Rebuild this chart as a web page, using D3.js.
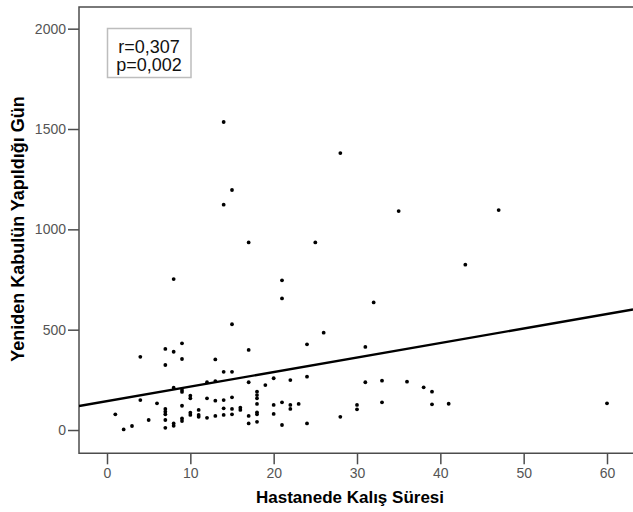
<!DOCTYPE html>
<html>
<head>
<meta charset="utf-8">
<script src="https://cdn.jsdelivr.net/npm/d3@7"></script>
<style>
  html, body { margin: 0; padding: 0; background: #fff; }
  svg { display: block; }
</style>
</head>
<body>
<svg id="chart" width="633" height="512"></svg>
<script>
// Hastanede Kalış Süresi (x) values
const stayDays = [
  1, 2, 3, 4, 4, 5, 6,
  7, 7, 7, 7, 7, 7, 7,
  8, 8, 8, 8, 8,
  9, 9, 9, 9, 9, 9, 9,
  10, 10, 10, 10,
  11, 11, 11,
  12, 12, 12,
  13, 13, 13, 13,
  14, 14, 14, 14, 14, 14,
  15, 15, 15, 15, 15, 15,
  16, 16,
  17, 17, 17, 17, 17,
  18, 18, 18, 18, 18, 18, 18,
  19,
  20, 20, 20,
  21, 21, 21, 21,
  22, 22, 22,
  23,
  24, 24, 24,
  25, 26,
  28, 28,
  30, 30,
  31, 31,
  32,
  33, 33,
  35, 36, 38,
  39, 39,
  41, 43, 47, 60
];
// Yeniden Kabulün Yapıldığı Gün (y) values
const readmitDays = [
  78, 3, 20, 365, 149, 50, 133,
  404, 324, 105, 91, 78, 50, 11,
  752, 390, 211, 33, 21,
  432, 354, 200, 190, 121, 58, 45,
  171, 158, 86, 75,
  100, 75, 66,
  238, 158, 61,
  352, 244, 146, 70,
  1535, 1123, 290, 149, 108, 75,
  1196, 527, 290, 163, 105, 78,
  111, 100,
  935, 399, 238, 70, 33,
  191, 174, 158, 130, 88, 78, 41,
  224,
  258, 125, 80,
  746, 656, 138, 25,
  249, 125, 105,
  130,
  427, 266, 33,
  935, 485,
  1380, 66,
  125, 103,
  414, 238,
  636,
  246, 138,
  1091, 241, 213,
  191, 128,
  131, 824, 1096, 133
];
const xTicks = [0, 10, 20, 30, 40, 50, 60];
const yTicks = [0, 500, 1000, 1500, 2000];
const fitIntercept = 144;   // linear fit line
const fitSlope = 7.24;
const statLines = ["r=0,307", "p=0,002"];
const xTitle = "Hastanede Kalış Süresi";
const yTitle = "Yeniden Kabulün Yapıldığı Gün";

const points = stayDays.map((d, i) => ({ x: d, y: readmitDays[i] }));

const svg = d3.select("#chart");
const pL = 79, pR = 633, pT = 7, pB = 453.3;
const x = d3.scaleLinear().domain([-3.36, 63.12]).range([pL, pR]);
const y = d3.scaleLinear().domain([-116, 2108]).range([pB, pT]);

const axisColor = "#4d4d4d";
const font = "'Liberation Sans', Arial, sans-serif";

// frame (left, top, bottom)
svg.append("path")
  .attr("d", `M${pR},${pT}H${pL}V${pB}H${pR}`)
  .attr("fill", "none").attr("stroke", axisColor).attr("stroke-width", 1.5);

// x axis
const gx = svg.append("g").attr("transform", `translate(0,${pB})`)
  .call(d3.axisBottom(x).tickValues(xTicks).tickFormat(d3.format("d"))
    .tickSize(11).tickPadding(4).tickSizeOuter(0));
gx.select(".domain").remove();
gx.selectAll(".tick line").attr("stroke", axisColor).attr("stroke-width", 1.5);
gx.selectAll(".tick text").attr("fill", "#555").style("font-family", font).style("font-size", "14px");

// y axis
const gy = svg.append("g").attr("transform", `translate(${pL},0)`)
  .call(d3.axisLeft(y).tickValues(yTicks).tickFormat(d3.format("d"))
    .tickSize(11).tickPadding(2).tickSizeOuter(0));
gy.select(".domain").remove();
gy.selectAll(".tick line").attr("stroke", axisColor).attr("stroke-width", 1.5);
gy.selectAll(".tick text").attr("fill", "#555").style("font-family", font).style("font-size", "14px");

// clip
svg.append("clipPath").attr("id", "plotclip")
  .append("rect").attr("x", pL).attr("y", pT).attr("width", pR - pL).attr("height", pB - pT);

// fit line
const [x0, x1] = x.domain();
svg.append("line")
  .attr("clip-path", "url(#plotclip)")
  .attr("x1", x(x0)).attr("y1", y(fitIntercept + fitSlope * x0))
  .attr("x2", x(x1)).attr("y2", y(fitIntercept + fitSlope * x1))
  .attr("stroke", "#000").attr("stroke-width", 2.4);

// points
svg.append("g").selectAll("circle").data(points).join("circle")
  .attr("cx", d => x(d.x)).attr("cy", d => y(d.y)).attr("r", 1.9).attr("fill", "#000");

// stat box
const box = svg.append("g");
box.append("rect").attr("x", 107.5).attr("y", 28.5).attr("width", 83.5).attr("height", 49)
  .attr("fill", "#fff").attr("stroke", "#bdbdbd").attr("stroke-width", 1.5);
box.selectAll("text").data(statLines).join("text")
  .attr("x", 149).attr("y", (d, i) => 53 + i * 18)
  .attr("text-anchor", "middle").attr("fill", "#111")
  .style("font-family", font).style("font-size", "18px")
  .text(d => d);

// titles
svg.append("text").attr("x", 350).attr("y", 503)
  .attr("text-anchor", "middle").attr("fill", "#000")
  .style("font-family", font).style("font-size", "17px").style("font-weight", "bold")
  .text(xTitle);
svg.append("text").attr("transform", "translate(23.5,229) rotate(-90)")
  .attr("text-anchor", "middle").attr("fill", "#000")
  .style("font-family", font).style("font-size", "18px").style("font-weight", "bold")
  .text(yTitle);
</script>
</body>
</html>
